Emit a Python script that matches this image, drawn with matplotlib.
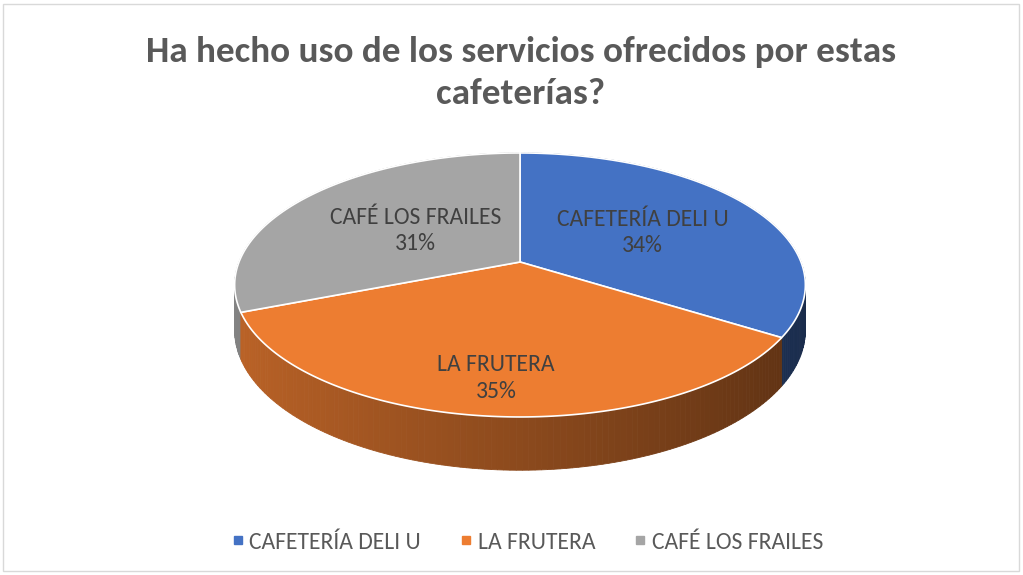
import matplotlib.pyplot as plt
from matplotlib.patches import Polygon, Rectangle
import numpy as np

categories = ["CAFETERÍA DELI U", "LA FRUTERA", "CAFÉ LOS FRAILES"]
values = [34, 35, 31]
colors = ["#4472C4", "#ED7D31", "#A5A5A5"]
title = "Ha hecho uso de los servicios ofrecidos por estas\ncafeterías?"

FONT = ["Carlito", "DejaVu Sans"]

# pie geometry in pixels (perspective ellipse)
cx, cy = 520, 262
A, B, K, H = 281, 128, 0.174, 44
lab_r = [0.52, 0.78, 0.47]

def proj(theta, r=1.0, drop=0.0):
    u = r * np.sin(theta)
    v = r * np.cos(theta)
    s = 1.0 / (1.0 + K * v)
    return cx + A * u * s, cy + (-B * v + drop) * s

def shade(col, f):
    c = np.array(plt.matplotlib.colors.to_rgb(col))
    return tuple(np.clip(c * f, 0, 1))

fig = plt.figure(figsize=(10.23, 5.75), dpi=100)
ax = fig.add_axes([0, 0, 1, 1])
ax.set_xlim(0, 1023)
ax.set_ylim(575, 0)
ax.axis("off")

ax.add_patch(Rectangle((3, 4), 1016, 567, fill=False, ec="#d9d9d9", lw=1))

total = sum(values)
bounds = np.concatenate([[0], np.cumsum(values)]) / total * 2 * np.pi

# side walls
quads = []
for i in range(len(values)):
    ts = np.linspace(bounds[i], bounds[i + 1], 120)
    for t0, t1 in zip(ts[:-1], ts[1:]):
        tm = 0.5 * (t0 + t1)
        p = [proj(t0), proj(t1), proj(t1, drop=H), proj(t0, drop=H)]
        f = 0.59 - 0.21 * np.sin(tm)
        quads.append((np.cos(tm), p, shade(colors[i], f)))
quads.sort(key=lambda q: -q[0])
for _, p, c in quads:
    ax.add_patch(Polygon(p, closed=True, fc=c, ec=c, lw=0.6))

# top face
for i in range(len(values)):
    ts = np.linspace(bounds[i], bounds[i + 1], 200)
    pts = [(cx, cy)] + [proj(t) for t in ts]
    ax.add_patch(Polygon(pts, closed=True, fc=colors[i], ec="white", lw=1.2))

# labels
for i in range(len(values)):
    tm = 0.5 * (bounds[i] + bounds[i + 1])
    x, y = proj(tm, r=lab_r[i])
    ax.text(x, y + 1, f"{categories[i]}\n{values[i] / total:.0%}", ha="center", va="center",
            fontsize=17, color="#404040", family=FONT, linespacing=1.32)

ax.text(521, 73, title, ha="center", va="center", fontsize=26.7, fontweight="bold",
        color="#595959", family=FONT, linespacing=1.38)

# legend
handles = [plt.Line2D([], [], marker="s", ls="", color=c, markersize=5.5) for c in colors]
leg = fig.legend(handles, categories, loc="center", bbox_to_anchor=(0.514, 0.057), ncol=3,
                 frameon=False, handletextpad=0.1, columnspacing=1.5, handlelength=0.8,
                 prop={"family": FONT, "size": 17})
for t in leg.get_texts():
    t.set_color("#595959")

fig.savefig("out.png", dpi=100)
